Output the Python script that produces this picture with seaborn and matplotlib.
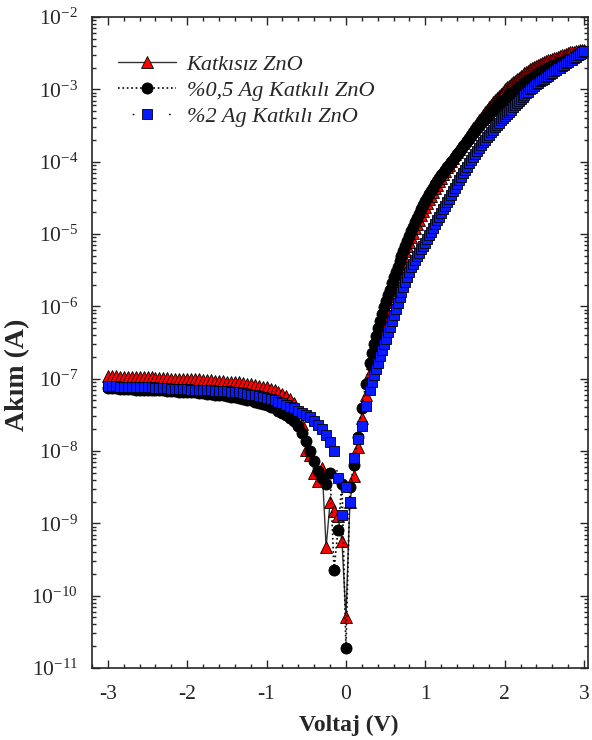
import numpy as np
import pandas as pd
import matplotlib
matplotlib.use('Agg')
import matplotlib.pyplot as plt
from matplotlib.ticker import LogLocator, NullFormatter
import seaborn as sns

# voltage sweep: 0.05 V steps up to 0.25 V, then 0.025 V steps
voltaj = np.round(np.concatenate([np.arange(-3.0, 0.26, 0.05),
                                  np.arange(0.3, 3.0001, 0.025)]), 3)

# log10 of current (A)
katkisiz_log = [
    -6.96, -6.96, -6.96, -6.97, -6.97, -6.97, -6.97, -6.98, -6.98, -6.98,
    -6.98, -6.98, -6.99, -6.99, -6.99, -6.99, -7.00, -7.00, -7.00, -7.00,
    -7.00, -7.01, -7.01, -7.01, -7.02, -7.02, -7.02, -7.03, -7.03, -7.03,
    -7.04, -7.04, -7.05, -7.05, -7.06, -7.07, -7.08, -7.09, -7.10, -7.11,
    -7.12, -7.14, -7.16, -7.18, -7.21, -7.24, -7.28, -7.34, -7.45, -7.62,
    -7.98, -8.05, -8.30, -8.42, -8.23, -9.33, -8.71, -8.83, -8.90, -9.25,
    -10.30, -8.70, -8.35, -7.94, -7.54, -7.22,
    # 0.3 V onwards
    -6.92, -6.79, -6.66, -6.54, -6.42, -6.32, -6.22, -6.12,
    -6.03, -5.94, -5.86, -5.77, -5.69, -5.61, -5.53, -5.45,
    -5.38, -5.31, -5.24, -5.17, -5.11, -5.04, -4.98, -4.92,
    -4.86, -4.80, -4.74, -4.68, -4.63, -4.57, -4.52, -4.47,
    -4.42, -4.37, -4.32, -4.27, -4.22, -4.17, -4.13, -4.08,
    -4.04, -3.99, -3.95, -3.90, -3.86, -3.82, -3.78, -3.74,
    -3.70, -3.66, -3.62, -3.58, -3.54, -3.50, -3.46, -3.42,
    -3.39, -3.35, -3.32, -3.28, -3.25, -3.21, -3.18, -3.15,
    -3.12, -3.09, -3.06, -3.03, -3.00, -2.97, -2.95, -2.92,
    -2.90, -2.88, -2.86, -2.84, -2.82, -2.80, -2.78, -2.76,
    -2.74, -2.72, -2.71, -2.69, -2.68, -2.66, -2.65, -2.63,
    -2.62, -2.61, -2.60, -2.59, -2.58, -2.57, -2.56, -2.55,
    -2.54, -2.53, -2.52, -2.51, -2.50, -2.49, -2.48, -2.48,
    -2.47, -2.47, -2.46, -2.46, -2.45,
]

ag05_log = [
    -7.13, -7.13, -7.13, -7.14, -7.14, -7.14, -7.14, -7.15, -7.15, -7.15,
    -7.15, -7.15, -7.16, -7.16, -7.16, -7.17, -7.17, -7.17, -7.18, -7.18,
    -7.18, -7.19, -7.19, -7.20, -7.20, -7.21, -7.21, -7.22, -7.23, -7.23,
    -7.24, -7.25, -7.26, -7.27, -7.28, -7.29, -7.30, -7.32, -7.33, -7.35,
    -7.37, -7.39, -7.41, -7.44, -7.47, -7.50, -7.54, -7.59, -7.65, -7.75,
    -7.86, -8.00, -8.14, -8.28, -8.38, -8.45, -8.30, -9.64, -9.09, -8.45,
    -10.72, -8.50, -8.20, -7.80, -7.40, -7.08,
    # 0.3 V onwards
    -6.78, -6.65, -6.52, -6.41, -6.30, -6.20, -6.10, -6.01,
    -5.93, -5.85, -5.77, -5.68, -5.60, -5.52, -5.45, -5.37,
    -5.30, -5.23, -5.16, -5.09, -5.03, -4.96, -4.90, -4.84,
    -4.78, -4.72, -4.66, -4.60, -4.55, -4.50, -4.45, -4.40,
    -4.36, -4.31, -4.27, -4.23, -4.19, -4.15, -4.11, -4.07,
    -4.04, -4.00, -3.97, -3.93, -3.90, -3.86, -3.82, -3.78,
    -3.75, -3.71, -3.68, -3.64, -3.61, -3.57, -3.54, -3.50,
    -3.47, -3.44, -3.41, -3.38, -3.35, -3.32, -3.29, -3.26,
    -3.23, -3.20, -3.18, -3.15, -3.13, -3.10, -3.08, -3.05,
    -3.03, -3.01, -2.99, -2.97, -2.95, -2.93, -2.91, -2.89,
    -2.87, -2.85, -2.83, -2.81, -2.80, -2.78, -2.77, -2.75,
    -2.74, -2.72, -2.71, -2.69, -2.68, -2.67, -2.66, -2.64,
    -2.63, -2.62, -2.61, -2.59, -2.58, -2.57, -2.56, -2.55,
    -2.54, -2.53, -2.52, -2.51, -2.50,
]

ag2_log = [
    -7.10, -7.10, -7.10, -7.11, -7.11, -7.11, -7.11, -7.12, -7.12, -7.12,
    -7.12, -7.12, -7.13, -7.13, -7.13, -7.13, -7.14, -7.14, -7.14, -7.14,
    -7.14, -7.15, -7.15, -7.15, -7.16, -7.16, -7.16, -7.17, -7.17, -7.17,
    -7.17, -7.18, -7.18, -7.19, -7.20, -7.21, -7.22, -7.23, -7.24, -7.25,
    -7.27, -7.28, -7.30, -7.32, -7.34, -7.36, -7.39, -7.41, -7.44, -7.47,
    -7.50, -7.53, -7.58, -7.64, -7.70, -7.78, -7.88, -8.00, -8.37, -8.88,
    -8.50, -8.71, -8.09, -7.84, -7.66, -7.38,
    # 0.3 V onwards
    -7.15, -7.05, -6.95, -6.86, -6.78, -6.69, -6.60, -6.52,
    -6.45, -6.36, -6.28, -6.20, -6.12, -6.03, -5.95, -5.87,
    -5.80, -5.73, -5.66, -5.59, -5.52, -5.46, -5.41, -5.36,
    -5.31, -5.26, -5.21, -5.16, -5.12, -5.07, -5.02, -4.97,
    -4.92, -4.86, -4.81, -4.76, -4.71, -4.66, -4.61, -4.56,
    -4.51, -4.46, -4.41, -4.36, -4.31, -4.26, -4.21, -4.16,
    -4.12, -4.07, -4.02, -3.97, -3.93, -3.89, -3.85, -3.81,
    -3.77, -3.73, -3.70, -3.66, -3.63, -3.59, -3.56, -3.52,
    -3.49, -3.46, -3.43, -3.40, -3.37, -3.34, -3.31, -3.28,
    -3.25, -3.22, -3.19, -3.16, -3.13, -3.10, -3.08, -3.05,
    -3.03, -3.00, -2.98, -2.95, -2.93, -2.91, -2.89, -2.87,
    -2.85, -2.83, -2.81, -2.79, -2.77, -2.75, -2.73, -2.71,
    -2.70, -2.68, -2.66, -2.64, -2.62, -2.60, -2.59, -2.57,
    -2.55, -2.53, -2.51, -2.49, -2.47,
]

labels = ['Katkısız ZnO', '%0,5 Ag Katkılı ZnO', '%2 Ag Katkılı ZnO']

df = pd.DataFrame({
    'V': voltaj,
    'k': 10 ** np.array(katkisiz_log),
    'a05': 10 ** np.array(ag05_log),
    'a2': 10 ** np.array(ag2_log),
})

sns.set_style('ticks')
plt.rcParams['font.family'] = ['Liberation Serif', 'DejaVu Serif']
plt.rcParams['mathtext.fontset'] = 'custom'
plt.rcParams['mathtext.rm'] = 'Liberation Serif'
plt.rcParams['mathtext.it'] = 'Liberation Serif:italic'
plt.rcParams['mathtext.bf'] = 'Liberation Serif:bold'
plt.rcParams['axes.unicode_minus'] = False

fig = plt.figure(figsize=(5.92, 7.4), dpi=100)
ax = fig.add_axes([0.1554, 0.0973, 0.8378, 0.8797])

sns.lineplot(data=df, x='V', y='k', ax=ax, label=labels[0], color='0.2', lw=1.0,
             linestyle='-', marker='^', markersize=8, markerfacecolor='red',
             markeredgecolor='black', markeredgewidth=0.6)
sns.lineplot(data=df, x='V', y='a05', ax=ax, label=labels[1], color='black', lw=1.2,
             linestyle=':', marker='o', markersize=8, markerfacecolor='black',
             markeredgecolor='black', markeredgewidth=0.6)
sns.lineplot(data=df, x='V', y='a2', ax=ax, label=labels[2], color='black', lw=1.0,
             linestyle=(16, (1.2, 25)), marker='s', markersize=7.5, markerfacecolor='#0a1aff',
             markeredgecolor='black', markeredgewidth=0.6)

ax.set_yscale('log')
ax.set_xlim(-3.2, 3.05)
ax.set_ylim(1e-11, 1e-2)
ax.yaxis.set_major_locator(LogLocator(base=10, numticks=20))
ax.yaxis.set_minor_locator(LogLocator(base=10, subs=np.arange(2, 10), numticks=20))
ax.yaxis.set_minor_formatter(NullFormatter())
ax.set_xticks([-3, -2, -1, 0, 1, 2, 3])
ax.set_xticks(np.arange(-3.2, 3.05, 0.2), minor=True)
ax.tick_params(which='both', direction='in', top=True, right=True, width=1.0)
ax.tick_params(which='major', length=6, labelsize=15.5)
ax.tick_params(which='minor', length=3)
ax.tick_params(axis='x', which='major', pad=12)
ax.tick_params(axis='y', which='major', pad=10)
for s in ax.spines.values():
    s.set_linewidth(1.2)

ax.set_xlabel('Voltaj (V)', fontsize=17, fontweight='bold')
ax.set_ylabel('Akım (A)', fontsize=20, fontweight='bold')
ax.xaxis.set_label_coords(0.518, -0.072)
ax.yaxis.set_label_coords(-0.125, 0.45)

leg = ax.legend(loc='upper left', bbox_to_anchor=(0.052, 0.943), frameon=False,
                prop={'style': 'italic', 'size': 16}, handlelength=2.6,
                handletextpad=0.5, labelspacing=0.25, borderpad=0, borderaxespad=0)

fig.savefig('out.png', dpi=100)
